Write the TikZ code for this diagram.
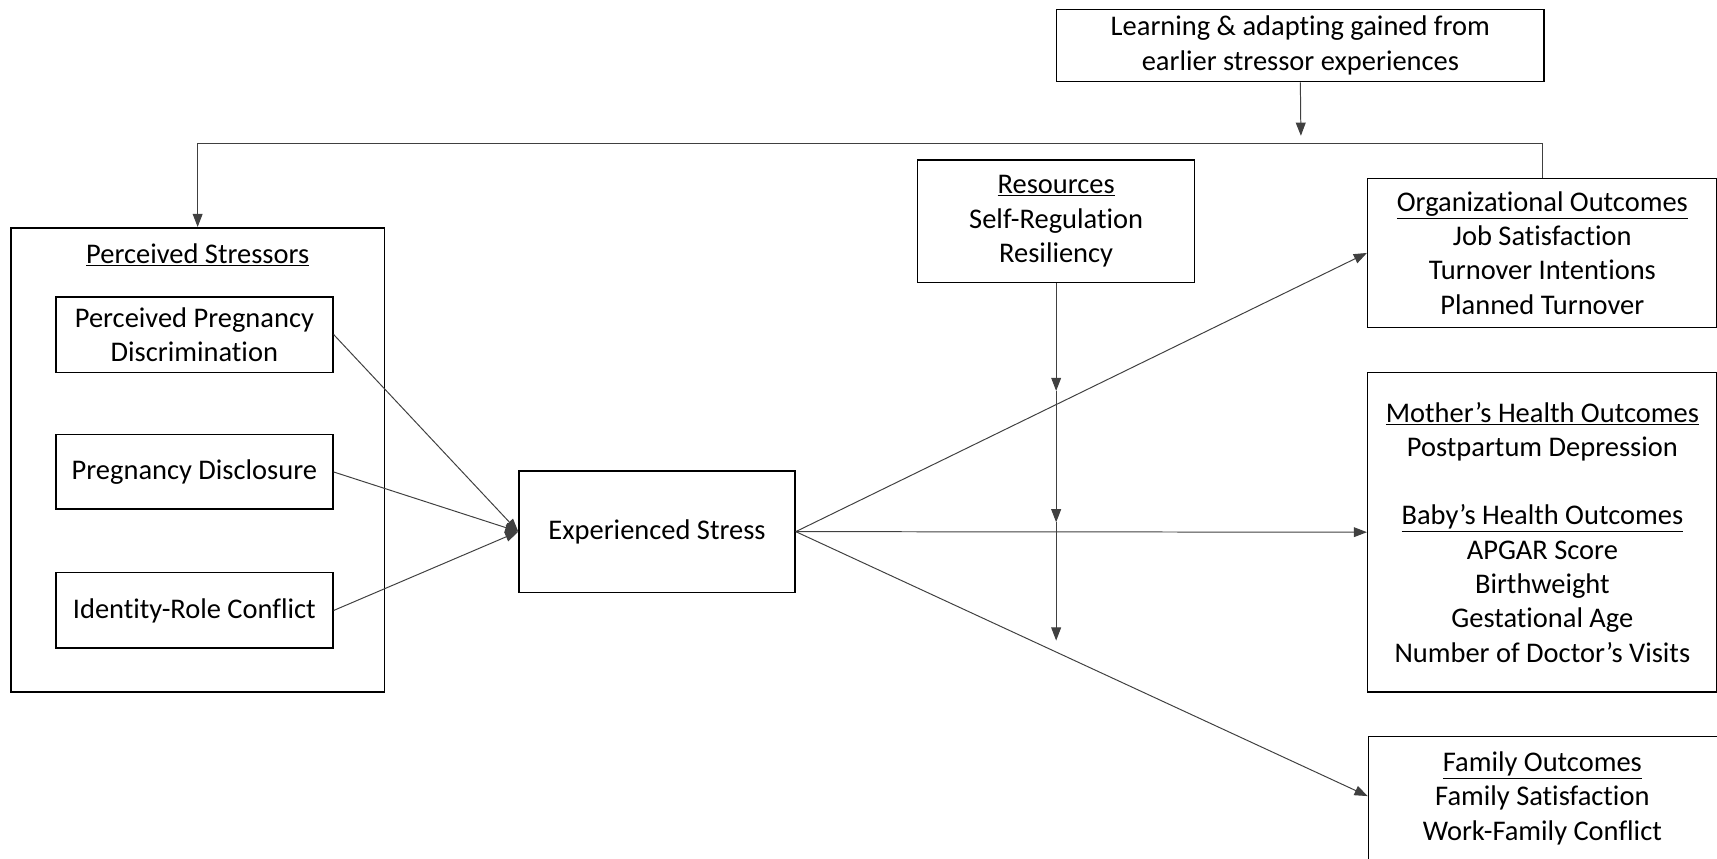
\documentclass[tikz,border=0pt]{standalone}
\usepackage{fontspec}
\setmainfont[Ligatures={NoCommon,NoContextual},RawFeature={-liga;-dlig;-calt}]{Carlito}
\usetikzlibrary{arrows.meta,calc}
\begin{document}
\begin{tikzpicture}[x=1pt,y=-1pt,
  lbl/.style={font=\fontsize{26}{31.3}\selectfont, align=center, inner sep=0pt},
  box/.style={lbl, draw, line width=1.4pt},
  con/.style={draw=black!75, line width=0.9pt, -{Triangle[length=12pt,width=9pt]}},
  plain/.style={draw=black!75, line width=0.9pt}]
\useasboundingbox (0,0) rectangle (1568,784);
% boxes
\node[box, minimum width=445pt, minimum height=66pt] (learn) at (1187.5,41.5) {Learning \& adapting gained from\\earlier stressor experiences};
\node[box, minimum width=341pt, minimum height=424pt] (ps) at (180.5,420) {};
\node[lbl] (pstitle) at (180.5,233) {\underline{Perceived Stressors}};
\node[box, minimum width=253pt, minimum height=69pt] (b1) at (177.5,305.5) {Perceived Pregnancy\\Discrimination};
\node[box, minimum width=253pt, minimum height=68pt] (b2) at (177.5,431) {Pregnancy Disclosure};
\node[box, minimum width=253pt, minimum height=69pt] (b3) at (177.5,557.5) {Identity-Role Conflict};
\node[box, minimum width=252pt, minimum height=111pt] (es) at (600,485.5) {Experienced Stress};
\node[box, minimum width=253pt, minimum height=112pt] (res) at (964.5,202) {\underline{Resources}\\Self-Regulation\\Resiliency};
\node[box, minimum width=319pt, minimum height=136pt] (org) at (1408.5,231) {\underline{Organizational Outcomes}\\Job Satisfaction\\Turnover Intentions\\Planned Turnover};
\node[box, minimum width=319pt, minimum height=292pt] (health) at (1408.5,486) {\underline{Mother’s Health Outcomes}\\Postpartum Depression\\[31.3pt]\underline{Baby’s Health Outcomes}\\APGAR Score\\Birthweight\\Gestational Age\\Number of Doctor’s Visits};
\node[box, minimum width=319pt, minimum height=150pt, anchor=north west] (fam) at (1249,672) {};
\node[lbl] (famtext) at (1408.5,729) {\underline{Family Outcomes}\\Family Satisfaction\\Work-Family Conflict};
% coordinates
\coordinate (fb) at (1188,124);
\coordinate (famin) at (1249,727);
\coordinate (m1) at (964.5,357);
\coordinate (m2) at (964.5,477);
\coordinate (m3) at (964.5,585);
% feedback loop
\draw[con] (learn.south) -- (fb);
\draw[con] (org.north) -- (org.north |- 0,131) -| (ps.north);
% stressors to stress
\draw[con] (b1.east) -- (es.west);
\draw[con] (b2.east) -- (es.west);
\draw[con] (b3.east) -- (es.west);
% stress to outcomes
\draw[con] (es.east) -- (org.west);
\draw[con] (es.east) -- (health.west);
\draw[con] (es.east) -- (famin);
% moderator
\draw[con] (res.south) -- (m1);
\draw[con] (m1) -- (m2);
\draw[con] (m2) -- (m3);
\end{tikzpicture}
\end{document}
